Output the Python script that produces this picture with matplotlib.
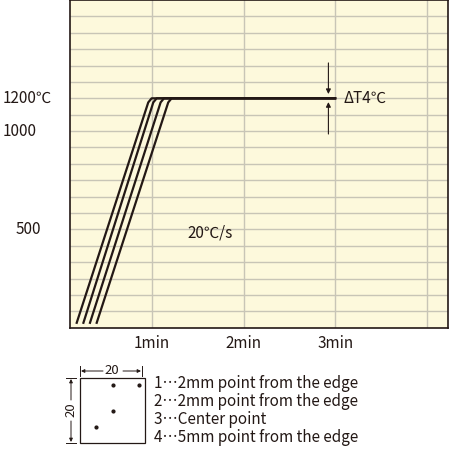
import matplotlib.pyplot as plt
import matplotlib.transforms as mtransforms
from matplotlib.patches import Rectangle

plt.rcParams['font.family'] = ['Noto Sans CJK JP', 'DejaVu Sans']

INK = "#231815"
BG = "#fdf9dc"
GRID = "#c8c5b6"
FS = 11

# heating curves: time (s) / temperature, 4 measuring points
start_t = [10.6, 15.0, 19.3, 23.7]
reach_t = [58.7, 62.0, 66.8, 71.8]
start_temp = -170
hold_temp = 1200
end_t = 180

# axis labels
x_ticks = [60, 120, 180, 240]
x_labels = ["1min", "2min", "3min", ""]
y_ticks = [1200, 1000, 400]
y_labels = ["1200℃", "1000", "500"]

# measuring points in the 20x20 sample (mm from top-left corner)
pt_x = [10, 18, 10, 5]
pt_y = [2, 2, 10, 15]
point_text = ["1…2mm point from the edge",
              "2…2mm point from the edge",
              "3…Center point",
              "4…5mm point from the edge"]

fig = plt.figure(figsize=(4.5, 4.5), dpi=100)
W = H = 450.0
ax = fig.add_axes([70 / W, 1 - 327.7 / H, 378 / W, 327.7 / H])
ax.set_facecolor(BG)
ax.set_xlim(6.2, 254)
ax.set_ylim(-200, 1800)

for t in range(60, 250, 60):
    ax.axvline(t, color=GRID, lw=1, zorder=1)
for v in range(-100, 1800, 100):
    ax.axhline(v, color=GRID, lw=1, zorder=1)

for t0, t1 in zip(start_t, reach_t):
    ax.plot([t0, t1 - 1.2, t1 + 1.0, end_t],
            [start_temp, hold_temp - 25, hold_temp, hold_temp],
            color=INK, lw=1.6, solid_joinstyle="round", zorder=3)

for s in ax.spines.values():
    s.set_color(INK)
    s.set_linewidth(1.2)

ax.set_xticks(x_ticks)
ax.set_xticklabels(x_labels, fontsize=FS, color=INK)
ax.tick_params(axis="x", length=0, pad=5)
ax.set_yticks([])

trans = mtransforms.blended_transform_factory(fig.transFigure, ax.transData)
label_x = [3, 3, 16]
for v, lab, lx in zip(y_ticks, y_labels, label_x):
    ax.text(lx / W, v, lab, transform=trans, ha="left", va="center",
            fontsize=FS, color=INK)

# delta T arrows
ax.annotate("", xy=(175.6, 1226), xytext=(175.6, 1416),
            arrowprops=dict(arrowstyle="-|>", color=INK, lw=0.8,
                            mutation_scale=7, shrinkA=0, shrinkB=0))
ax.annotate("", xy=(175.6, 1177), xytext=(175.6, 982),
            arrowprops=dict(arrowstyle="-|>", color=INK, lw=0.8,
                            mutation_scale=7, shrinkA=0, shrinkB=0))
ax.text(185.2, 1200, "ΔT4℃", ha="left", va="center", fontsize=FS, color=INK)
ax.text(83, 380, "20℃/s", ha="left", va="center", fontsize=FS, color=INK)

# sample diagram in pixel coordinates
lg = fig.add_axes([0, 0, 1, 1])
lg.set_xlim(0, W)
lg.set_ylim(H, 0)
lg.axis("off")
sx, sy, ss = 80, 378, 65
k = ss / 20.0
lg.add_patch(Rectangle((sx, sy), ss, ss, fill=False, ec=INK, lw=0.9))
lg.scatter([sx + px * k for px in pt_x], [sy + py * k for py in pt_y],
           s=4, color=INK)
arr = dict(arrowstyle="-|>", color=INK, lw=0.7, mutation_scale=5,
           shrinkA=0, shrinkB=0)
# top dimension
lg.plot([sx, sx], [366, 376], color=INK, lw=0.7)
lg.plot([sx + ss - 3, sx + ss - 3], [366, 376], color=INK, lw=0.7)
lg.annotate("", xy=(sx + 1, 371), xytext=(103, 371), arrowprops=arr)
lg.annotate("", xy=(sx + ss - 4, 371), xytext=(123, 371), arrowprops=arr)
lg.text(112, 370, "20", ha="center", va="center", fontsize=9.5, color=INK)
# left dimension
lg.plot([66, 76], [sy, sy], color=INK, lw=0.7)
lg.plot([66, 76], [sy + ss, sy + ss], color=INK, lw=0.7)
lg.annotate("", xy=(71, sy + 1), xytext=(71, 400), arrowprops=arr)
lg.annotate("", xy=(71, sy + ss - 1), xytext=(71, 421), arrowprops=arr)
lg.text(71, 410, "20", ha="center", va="center", rotation=90,
        fontsize=9.5, color=INK)

for i, txt in enumerate(point_text):
    lg.text(154, 384 + i * 18, txt, ha="left", va="center",
            fontsize=FS, color=INK)

fig.savefig("out.png", dpi=100, facecolor="white")
